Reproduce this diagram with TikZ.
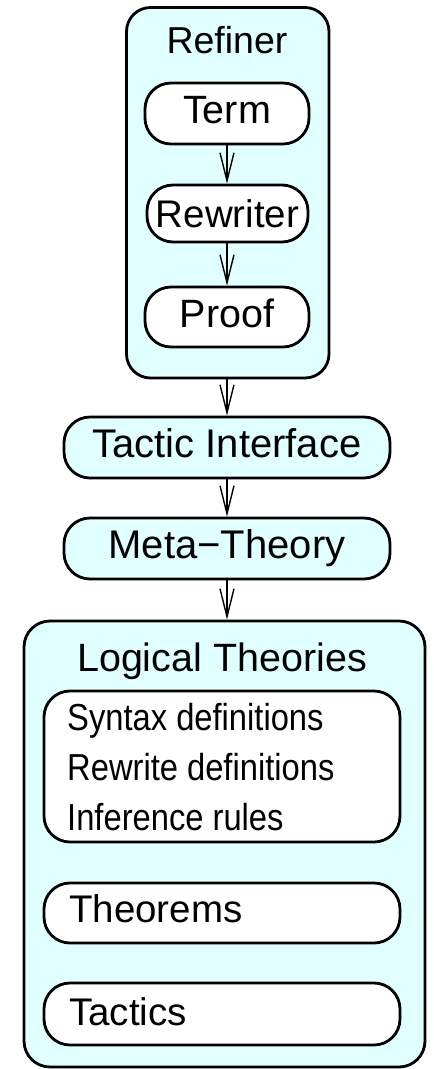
\documentclass[tikz,border=0pt]{standalone}
\usepackage{fontspec}
\setmainfont{Liberation Sans}
\newfontfamily\narrowfont[FakeStretch=0.87]{Liberation Sans}
\usetikzlibrary{arrows.meta}
\definecolor{boxfill}{RGB}{224,255,255}
\tikzset{
  frame/.style={draw=black, line width=2.8pt, fill=boxfill, rounded corners=24pt, inner sep=0pt},
  pill/.style={draw=black, line width=2.8pt, rounded corners=26pt, inner sep=0pt,
    text height=29pt, text depth=9pt},
  layer/.style={pill, fill=boxfill, font=\fontsize{40}{46}\selectfont,
    minimum width=326pt, minimum height=61pt},
  sub/.style={pill, fill=white, font=\fontsize{39.5}{46}\selectfont,
    minimum width=164pt, minimum height=61pt},
  part/.style={draw=black, line width=2.8pt, fill=white, rounded corners=26pt,
    inner sep=0pt, minimum width=356pt},
  title/.style={anchor=base, inner sep=0pt},
  item/.style={anchor=base west, inner sep=0pt, font=\narrowfont\fontsize{37.6}{46}\selectfont},
  flow/.style={line width=1.4pt, -{Straight Barb[length=28pt,width=14pt,line width=1.4pt]}}
}
\begin{document}
\begin{tikzpicture}[x=1pt,y=-1pt]
\useasboundingbox (0,0) rectangle (434,1069);

% refiner with its three stages
\node[frame, minimum width=202.5pt, minimum height=370.5pt] (refiner) at (227.75,192.75) {};
\node[title, font=\fontsize{37.5}{44}\selectfont] (refinerlbl) at (227,53) {Refiner};
\node[sub] (term) at (227,113.5) {Term};
\node[sub, font=\fontsize{38.5}{44}\selectfont, text depth=2pt,
  minimum width=161pt, minimum height=57pt] (rewriter) at (227.5,213.5) {Rewriter};
\node[sub, minimum height=60pt] (proof) at (227,317) {Proof};

% interface layers
\node[layer] (tactic) at (227,447.5) {Tactic Interface};
\node[layer] (meta) at (227,548.5) {Meta−Theory};

% logical theories
\node[frame, rounded corners=26pt, minimum width=401pt, minimum height=446pt] (logic) at (224.5,844) {};
\node[title, font=\fontsize{39.5}{46}\selectfont] (logiclbl) at (222,671) {Logical Theories};
\node[part, minimum height=151pt] (defs) at (222,766.5) {};
\node[item] (syntax) at (67,730) {Syntax definitions};
\node[item] (rewrite) at (67,780) {Rewrite definitions};
\node[item] (infer) at (67,830) {Inference rules};
\node[part, minimum height=60pt] (thms) at (222,913) {};
\node[item, font=\fontsize{38.5}{46}\selectfont] (thmslbl) at (69,922.5) {Theorems};
\node[part, minimum height=62pt] (tacs) at (222,1014) {};
\node[item, font=\fontsize{38.5}{46}\selectfont] (tacslbl) at (69,1025) {Tactics};

% connectors
\draw[flow] (term.south) -- (term.south |- rewriter.north);
\draw[flow] (term.south |- rewriter.south) -- (term.south |- proof.north);
\draw[flow] (tactic.north |- refiner.south) -- (tactic.north);
\draw[flow] (tactic.south) -- (meta.north);
\draw[flow] (meta.south) -- (meta.south |- logic.north);
\end{tikzpicture}
\end{document}
